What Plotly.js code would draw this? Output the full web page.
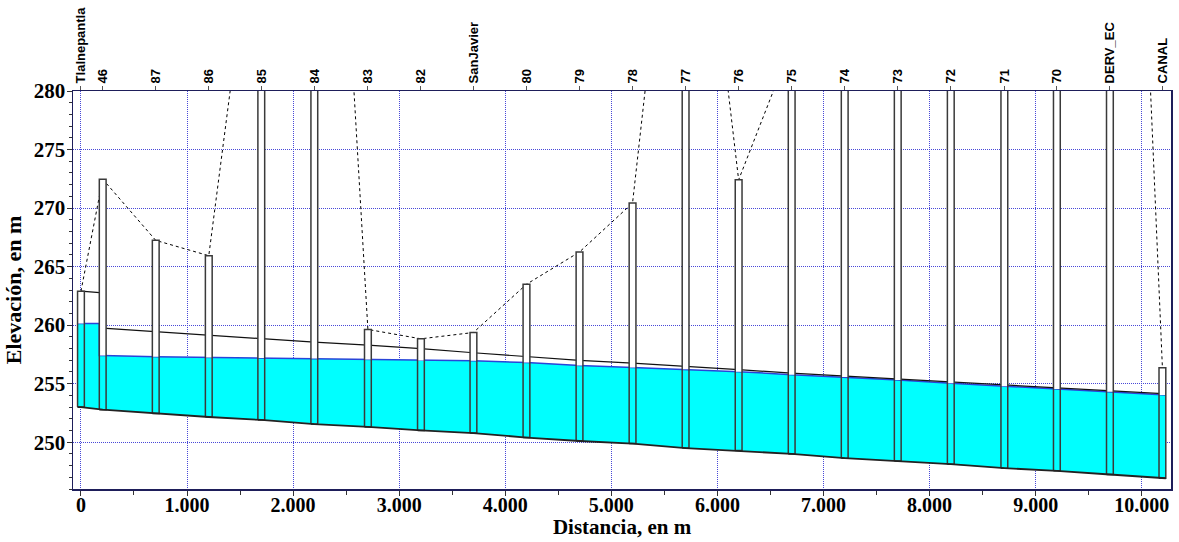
<!DOCTYPE html>
<html><head><meta charset="utf-8">
<script src="https://cdn.plot.ly/plotly-3.0.1.min.js"></script>
<style>html,body{margin:0;padding:0;background:#fff}#chart{width:1179px;height:542px}</style>
</head><body><div id="chart"></div>
<script>
// ---- data read from the profile ----
const nodeNames = ['Tlalnepantla','46','87','86','85','84','83','82','SanJavier','80','79','78','77','76','75','74','73','72','71','70','DERV_EC','CANAL'];
const nodeDist = [0,205,705,1205,1700,2200,2705,3205,3700,4200,4700,5200,5700,6200,6700,7200,7700,8200,8705,9200,9700,10195];
const invertElev = [253.0,252.78,252.44,252.15,251.9,251.55,251.3,251.0,250.78,250.39,250.1,249.88,249.5,249.28,249.0,248.63,248.4,248.12,247.78,247.55,247.24,246.92];
const rimElev = [262.9,272.47,267.24,265.93,300.5,338,259.63,258.83,259.37,263.49,266.25,270.43,311,272.41,284,300,300,300,300,300,361,256.36];
const waterElev = [260.14,257.41,257.3,257.24,257.2,257.15,257.07,256.98,256.95,256.81,256.56,256.39,256.22,256.02,255.77,255.57,255.32,255.03,254.77,254.55,254.3,254.04];
const crownFirstConduit = [262.9,262.75];
const crownElev = [null,259.74,259.43,259.1,258.83,258.54,258.29,258.0,257.64,257.3,256.98,256.75,256.44,256.19,255.9,255.65,255.38,255.12,254.86,254.62,254.38,254.14];
const xTickVals = [0,1000,2000,3000,4000,5000,6000,7000,8000,9000,10000];
const yTickVals = [250,255,260,265,270,275,280];

// ---- styling ----
const HW = 32; // half width of node boxes (m)
const n = nodeDist.length;
const last = n - 1;

// water polygon
const wx = [], wy = [];
wx.push(nodeDist[0]-HW, nodeDist[1]-HW, nodeDist[1]-HW); wy.push(waterElev[0], waterElev[0], waterElev[1]);
for (let i = 1; i < n; i++) { wx.push(nodeDist[i]); wy.push(waterElev[i]); }
wx.push(nodeDist[last]+HW); wy.push(waterElev[last]);
const surfX = wx.slice(), surfY = wy.slice();
wx.push(nodeDist[last]+HW); wy.push(invertElev[last]);
for (let i = last; i >= 0; i--) { wx.push(nodeDist[i]); wy.push(invertElev[i]); }
wx.push(nodeDist[0]-HW); wy.push(invertElev[0]);

// invert line
const ix = [nodeDist[0]-HW], iy = [invertElev[0]];
for (let i = 0; i < n; i++) { ix.push(nodeDist[i]); iy.push(invertElev[i]); }
ix.push(nodeDist[last]+HW); iy.push(invertElev[last]);

// crown line
const cx = [nodeDist[0], nodeDist[1], null], cy = [crownFirstConduit[0], crownFirstConduit[1], null];
for (let i = 1; i < n; i++) { cx.push(nodeDist[i]); cy.push(crownElev[i]); }

// node boxes
const fx = [], fy = [], ox = [], oy = [];
for (let i = 0; i < n; i++) {
  const a = nodeDist[i]-HW, b = nodeDist[i]+HW;
  fx.push(a,b,b,a,a,null); fy.push(waterElev[i],waterElev[i],rimElev[i],rimElev[i],waterElev[i],null);
  ox.push(a,b,b,a,a,null); oy.push(invertElev[i],invertElev[i],rimElev[i],rimElev[i],invertElev[i],null);
}

const traces = [
  {x: wx, y: wy, mode:'lines', fill:'toself', fillcolor:'#00ffff', line:{width:0, color:'rgba(0,0,0,0)'}, hoverinfo:'skip'},
  {x: surfX, y: surfY, mode:'lines', line:{color:'#2a44d8', width:1.5}, hoverinfo:'skip'},
  {x: cx, y: cy, mode:'lines', line:{color:'#111', width:1.2}, hoverinfo:'skip'},
  {x: nodeDist, y: rimElev, mode:'lines', line:{color:'#000', width:1, dash:'3px,3px'}, hoverinfo:'skip'},
  {x: fx, y: fy, mode:'lines', fill:'toself', fillcolor:'#ffffff', line:{width:0, color:'rgba(0,0,0,0)'}, hoverinfo:'skip'},
  {x: ox, y: oy, mode:'lines', line:{color:'#3a3a3a', width:1.5}, hoverinfo:'skip'},
  {x: ix, y: iy, mode:'lines', line:{color:'#222', width:1.8}, hoverinfo:'skip'},
  {x: nodeDist, y: invertElev, xaxis:'x2', mode:'markers', marker:{opacity:0}, hoverinfo:'skip'}
];

const serif = 'Liberation Serif, Times New Roman, serif';
const layout = {
  width:1179, height:542,
  margin:{l:73, r:8, t:91, b:53},
  paper_bgcolor:'#fff', plot_bgcolor:'#fff',
  separators:',.',
  showlegend:false,
  font:{family:serif, color:'#000'},
  xaxis:{
    range:[-75,10276], tickmode:'array', tickvals:xTickVals, tickformat:',d',
    ticks:'outside', ticklen:5, tickcolor:'#333', ticklabelstandoff:-8,
    showline:true, mirror:true, linecolor:'#1e1e5a', linewidth:1.5,
    showgrid:true, gridcolor:'#4848d8', griddash:'1px,1px', gridwidth:1, zeroline:false,
    tickfont:{family:serif, size:20, weight:'bold', color:'#000'},
    title:{text:'Distancia, en m', font:{family:serif, size:21, weight:'bold', color:'#000'}, standoff:2},
    minor:{tickmode:'linear', tick0:0, dtick:500, ticks:'outside', ticklen:4, tickcolor:'#333', showgrid:false}
  },
  xaxis2:{
    overlaying:'x', side:'top', range:[-75,10276], tickmode:'array', tickvals:nodeDist,
    ticktext:nodeNames.map(s => '<b>' + s + '</b>'),
    tickangle:-90, ticks:'outside', ticklen:4, tickcolor:'#555',
    showgrid:false, showline:false, zeroline:false,
    tickfont:{family:'Liberation Sans, Arial, sans-serif', size:13, color:'#000'}
  },
  yaxis:{
    range:[246,280], tickmode:'array', tickvals:yTickVals,
    ticks:'outside', ticklen:5, tickcolor:'#333', ticklabelstandoff:-3,
    showline:true, mirror:true, linecolor:'#1e1e5a', linewidth:1.5,
    showgrid:true, gridcolor:'#4848d8', griddash:'1px,1px', gridwidth:1, zeroline:false,
    tickfont:{family:serif, size:21, weight:'bold', color:'#000'},
    title:{text:'Elevación, en m', font:{family:serif, size:22, weight:'bold', color:'#000'}, standoff:6},
    minor:{tickmode:'linear', tick0:246, dtick:1, ticks:'outside', ticklen:3, tickcolor:'#333', showgrid:false}
  }
};

Plotly.newPlot('chart', traces, layout, {displayModeBar:false, staticPlot:true});
</script>
</body></html>
